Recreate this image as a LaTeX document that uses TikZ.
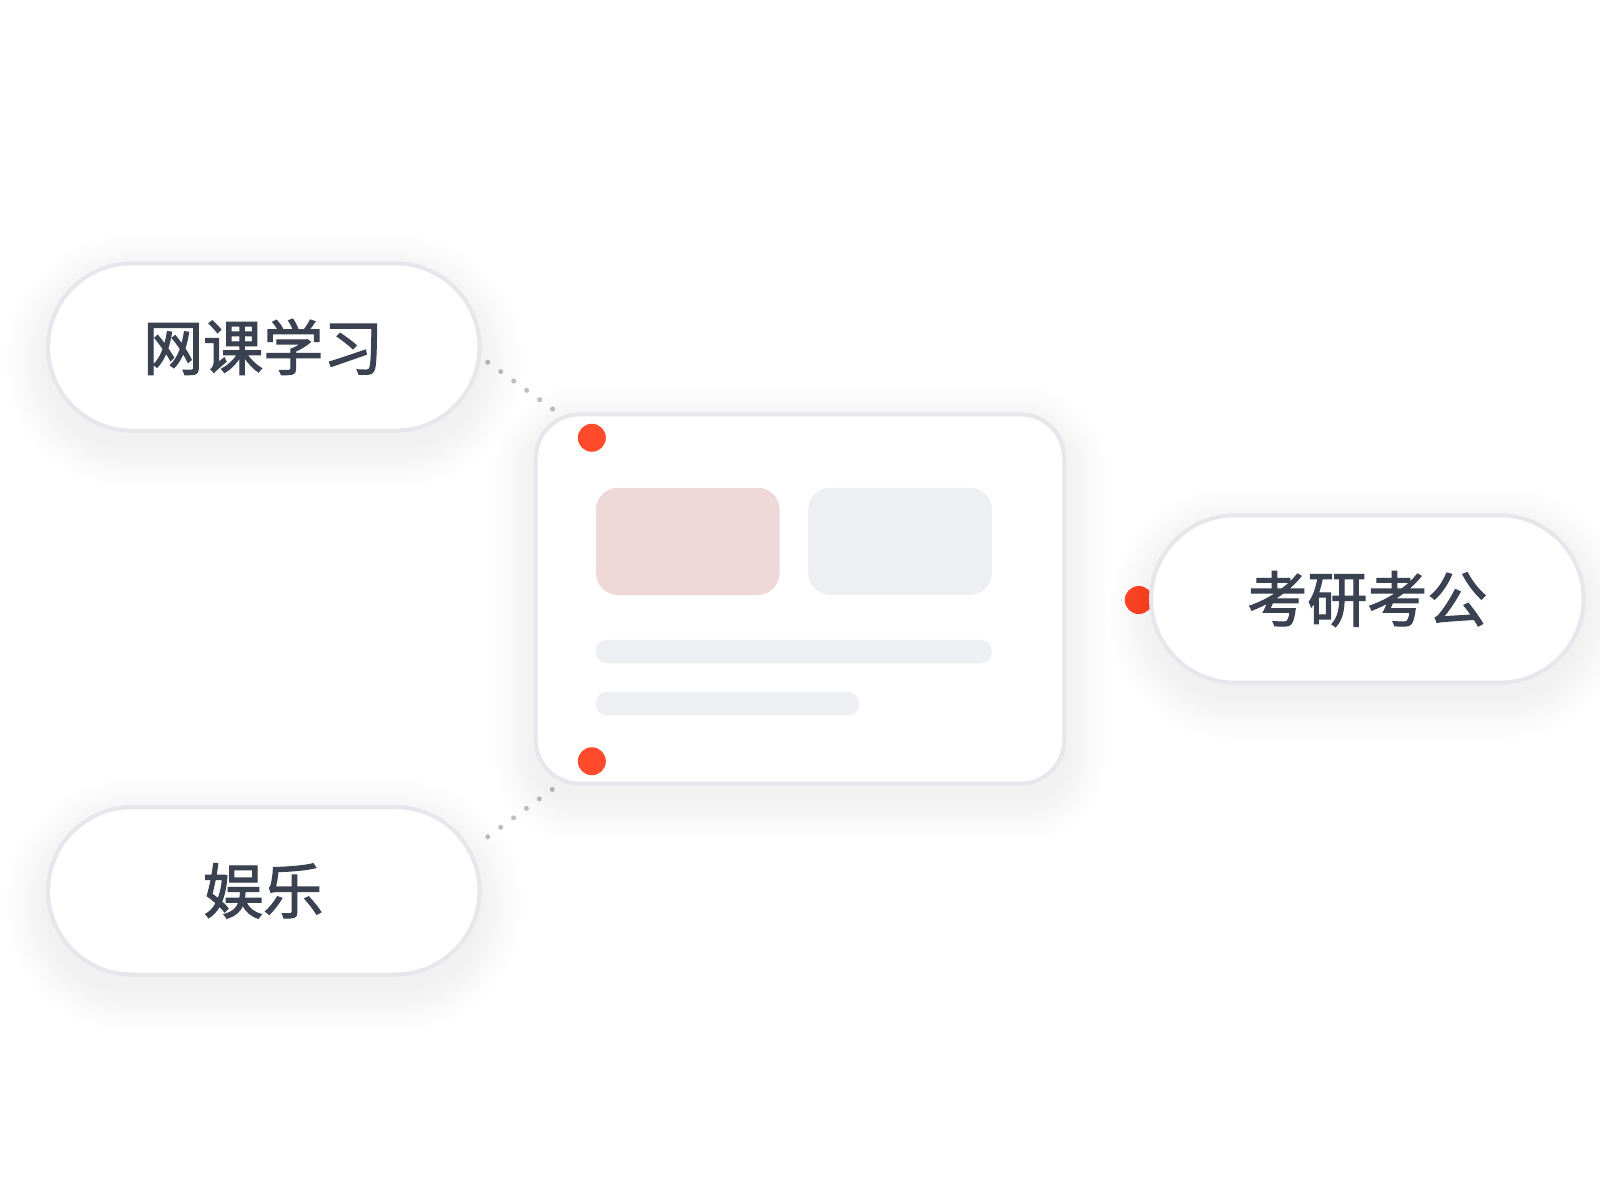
\documentclass[tikz,border=0pt]{standalone}
\usepackage{fontspec}
\newfontfamily\cjk[FakeBold=2]{Noto Sans CJK SC}
\definecolor{bd}{HTML}{E6E6EC}
\definecolor{txt}{HTML}{3A4150}
\definecolor{red}{HTML}{FF4B2B}
\definecolor{pk}{HTML}{EFD8D8}
\definecolor{gy}{HTML}{EEEFF2}
\newcommand{\softshadow}[5]{% x1 y1 x2 y2 radius(units)
  \foreach \i in {1,...,14}{
    \fill[black,opacity=0.004,rounded corners={(#5+3*\i)*0.5102pt}]
      (#1-3*\i,#2-3*\i+14) rectangle (#3+3*\i,#4+3*\i+14);
  }}
\begin{document}
\begin{tikzpicture}[x=0.5102pt,y=-0.5102pt,
 pill/.style={draw=bd,line width=2pt,fill=white,rounded corners=42pt},
 lbl/.style={font=\cjk\fontsize{30}{33}\selectfont,text=txt},
 dot/.style={circle,fill=red,minimum size=14pt,inner sep=0},
 conn/.style={draw=gray!50,line width=2.5pt,line cap=round,dash pattern=on 0pt off 8pt}]
\useasboundingbox (0,0) rectangle (1568,1176);
\clip (0,0) rectangle (1568,1176);
\fill[white] (0,0) rectangle (1568,1176);
\node[dot] (d3) at (1116,588) {};
\coordinate (c1) at (478,355); \coordinate (c2) at (557,412);
\coordinate (c3) at (478,820); \coordinate (c4) at (557,762);
\draw[conn] (c1) -- (c2);
\draw[conn] (c3) -- (c4);
\softshadow{47}{258}{470}{422}{82}
\draw[pill] (47,258) rectangle (470,422);
\node[lbl] (p1) at (258,340) {网课学习};
\softshadow{47}{791}{470}{955}{82}
\draw[pill] (47,791) rectangle (470,955);
\node[lbl] (p2) at (258,873) {娱乐};
\softshadow{1128}{505}{1552}{669}{82}
\draw[pill] (1128,505) rectangle (1552,669);
\node[lbl] (p3) at (1340,587) {考研考公};
\softshadow{525}{406}{1043}{768}{43}
\draw[draw=bd,line width=2pt,fill=white,rounded corners=22pt] (525,406) rectangle (1043,768);
\fill[pk,rounded corners=11pt] (584,478) rectangle (764,583);
\fill[gy,rounded corners=11pt] (792,478) rectangle (972,583);
\fill[gy,rounded corners=5.5pt] (584,627) rectangle (972,650);
\fill[gy,rounded corners=5.5pt] (584,678) rectangle (842,701);
\node[dot] (d1) at (580,429) {};
\node[dot] (d2) at (580,746) {};
\end{tikzpicture}
\end{document}
